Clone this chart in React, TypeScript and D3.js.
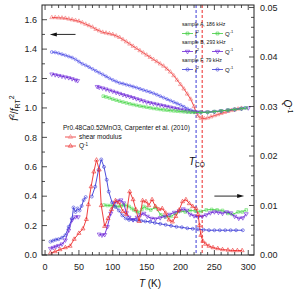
import * as d3 from "d3";

// Carpenter et al. (2010), Pr0.48Ca0.52MnO3
const shearT = [10, 15, 20, 25, 30, 35, 40, 45, 50, 55, 60, 65, 70, 75, 80, 85, 90, 95, 100, 105, 110, 115, 120, 125, 130, 135, 140, 145, 150, 155, 160, 165, 170, 175, 180, 185, 190, 195, 200, 205, 210, 215, 220, 223, 226, 230, 235, 240, 245, 250, 255, 260, 265, 270, 275, 280, 285, 290];
const shearF2 = [1.615, 1.615, 1.613, 1.612, 1.61, 1.605, 1.6, 1.595, 1.59, 1.58, 1.57, 1.56, 1.55, 1.535, 1.525, 1.515, 1.51, 1.505, 1.5, 1.49, 1.48, 1.465, 1.45, 1.435, 1.42, 1.405, 1.39, 1.375, 1.36, 1.345, 1.33, 1.315, 1.3, 1.285, 1.265, 1.245, 1.22, 1.19, 1.16, 1.13, 1.095, 1.06, 1.01, 0.97, 0.945, 0.93, 0.928, 0.932, 0.94, 0.948, 0.955, 0.963, 0.97, 0.977, 0.983, 0.988, 0.993, 0.998];
const carpQT = [8, 15, 22, 30, 37, 43, 50, 56, 61, 64, 68, 72, 76, 80, 83, 88, 93, 98, 104, 109, 115, 120, 125, 130, 134, 139, 144, 149, 153, 158, 163, 168, 173, 178, 183, 188, 193, 198, 203, 208, 213, 218, 223, 226, 228, 230, 233, 237, 242, 248, 255, 262, 270, 277, 284, 291];
const carpQ = [0.0004, 0.0007, 0.0011, 0.0015, 0.0018, 0.0032, 0.0044, 0.0053, 0.0072, 0.0102, 0.0138, 0.0168, 0.0192, 0.0172, 0.01, 0.0058, 0.0074, 0.0092, 0.011, 0.0106, 0.0088, 0.0082, 0.0128, 0.0112, 0.0092, 0.0068, 0.011, 0.0108, 0.01, 0.0112, 0.0098, 0.0092, 0.0094, 0.0085, 0.0071, 0.0067, 0.0078, 0.0091, 0.0108, 0.0112, 0.0104, 0.0098, 0.0094, 0.0082, 0.006, 0.004, 0.0028, 0.0022, 0.0018, 0.0015, 0.0013, 0.0011, 0.001, 0.0009, 0.0009, 0.0009];

// sample A, 186 kHz
const aF2T = [86, 90, 95, 100, 105, 110, 115, 120, 125, 130, 135, 140, 145, 150, 155, 160, 165, 170, 175, 180, 185, 190, 195, 200, 205, 210, 215, 220, 230, 240, 250, 260, 270, 280, 290, 297];
const aF2 = [1.08, 1.075, 1.068, 1.06, 1.053, 1.046, 1.04, 1.034, 1.028, 1.023, 1.018, 1.013, 1.009, 1.005, 1.001, 0.997, 0.994, 0.99, 0.987, 0.985, 0.982, 0.98, 0.978, 0.976, 0.974, 0.972, 0.971, 0.97, 0.97, 0.971, 0.975, 0.98, 0.985, 0.99, 0.995, 1.0];
const aQT = [87, 92, 97, 102, 107, 112, 116, 120, 124, 128, 131, 135, 139, 143, 146, 150, 156, 163, 171, 178, 186, 193, 200, 207, 214, 222, 230, 238, 246, 254, 262, 270, 277, 285, 291, 297];
const aQ = [0.0101, 0.01, 0.01, 0.0099, 0.0098, 0.0099, 0.0101, 0.01, 0.0098, 0.0094, 0.0091, 0.0088, 0.0086, 0.0092, 0.0098, 0.0094, 0.0091, 0.0096, 0.0081, 0.0077, 0.0078, 0.0084, 0.0089, 0.0087, 0.009, 0.0089, 0.0088, 0.0091, 0.0092, 0.0091, 0.009, 0.0084, 0.0082, 0.0087, 0.0087, 0.0091];

// sample B, 293 kHz (null = no data)
const bF2T = [10, 15, 20, 25, 30, 35, 40, 45, 48, 60, 77, 80, 85, 90, 95, 100, 105, 110, 115, 120, 125, 130, 135, 140, 145, 150, 155, 160, 165, 170, 175, 180, 185, 190, 195, 200, 205, 210, 215, 220, 230, 240, 250, 260, 270, 280, 290, 300];
const bF2 = [1.23, 1.225, 1.22, 1.215, 1.21, 1.205, 1.198, 1.19, 1.185, null, 1.145, 1.14, 1.135, 1.128, 1.12, 1.113, 1.105, 1.098, 1.09, 1.083, 1.077, 1.07, 1.062, 1.055, 1.048, 1.04, 1.035, 1.03, 1.025, 1.02, 1.015, 1.01, 1.005, 1.0, 0.995, 0.99, 0.985, 0.98, 0.977, 0.975, 0.972, 0.972, 0.975, 0.98, 0.985, 0.99, 0.995, 1.0];
const bQT = [8, 12, 16, 20, 25, 30, 35, 40, 45, 49, 64, 80, 84, 88, 92, 97, 102, 107, 112, 116, 120, 124, 130, 136, 141, 146, 151, 157, 163, 170, 177, 184, 191, 198, 204, 209, 214, 220, 226, 232, 238, 244, 250, 256, 262, 268, 274, 280, 286, 292, 297];
const bQ = [0.0013, 0.0015, 0.0017, 0.0019, 0.0022, 0.003, 0.005, 0.0071, 0.0077, 0.0077, null, 0.0042, 0.004, 0.0041, 0.0057, 0.0084, 0.0104, 0.0109, 0.0111, 0.0105, 0.0085, 0.0076, 0.0071, 0.0076, 0.0081, 0.0084, 0.0078, 0.0074, 0.0073, 0.0075, 0.0078, 0.0082, 0.0086, 0.0089, 0.0093, 0.009, 0.0082, 0.0079, 0.0077, 0.0078, 0.0081, 0.0085, 0.0087, 0.0086, 0.0084, 0.0087, 0.0085, 0.0078, 0.0074, 0.0075, 0.0083];

// sample F, 79 kHz
const fF2T = [10, 15, 20, 25, 30, 35, 40, 45, 50, 55, 60, 65, 70, 75, 80, 85, 90, 95, 100, 105, 110, 115, 120, 125, 130, 135, 140, 145, 150, 155, 160, 165, 170, 175, 180, 185, 190, 195, 200, 205, 210, 215, 220, 225, 230, 240, 250, 260, 270, 280, 290, 295];
const fF2 = [1.38, 1.378, 1.372, 1.365, 1.358, 1.35, 1.342, 1.33, 1.315, 1.3, 1.29, 1.278, 1.265, 1.252, 1.24, 1.228, 1.215, 1.202, 1.19, 1.18, 1.17, 1.165, 1.158, 1.152, 1.145, 1.138, 1.13, 1.122, 1.115, 1.108, 1.1, 1.09, 1.08, 1.07, 1.06, 1.05, 1.04, 1.03, 1.02, 1.008, 0.995, 0.985, 0.975, 0.972, 0.97, 0.97, 0.974, 0.979, 0.985, 0.99, 0.996, 1.0];
const fQT = [8, 12, 16, 20, 25, 30, 35, 40, 42, 45, 48, 51, 54, 57, 60, 64, 69, 74, 79, 83, 87, 91, 94, 99, 104, 109, 114, 119, 124, 130, 136, 142, 148, 155, 162, 170, 178, 186, 194, 202, 210, 218, 226, 234, 242, 250, 258, 266, 274, 282, 292];
const fQ = [0.0027, 0.0029, 0.0031, 0.0032, 0.0035, 0.004, 0.0057, 0.0074, 0.0096, 0.0087, 0.0094, 0.009, 0.0099, 0.0111, 0.0117, null, 0.0118, 0.0138, 0.0172, 0.0193, 0.0178, 0.0152, 0.0128, 0.0106, 0.0097, 0.009, 0.008, 0.0074, 0.0071, 0.0071, 0.007, 0.0069, 0.0068, 0.0067, 0.0065, 0.0063, 0.0061, 0.0059, 0.0057, 0.0056, 0.0054, 0.0053, 0.0052, 0.0051, 0.005, 0.005, 0.005, 0.005, 0.005, 0.005, 0.005];

const T_CO = [223, 232]; // blue, red dashed lines

const W = 296;
const H = 291;
const M = { left: 42, right: 254, top: 5, bottom: 255 };
const FONT = "'Liberation Sans', Arial, Helvetica, sans-serif";

const RED = "#ec2a2a";
const RED_LIGHT = "#f47272";
const GREEN = "#3ccc3c";
const PURPLE = "#6a22d6";
const BLUE = "#3a3ad6";

const x = d3.scaleLinear().domain([-4.5, 308.5]).range([M.left, M.right]);
const yL = d3.scaleLinear().domain([0, 1.7]).range([M.bottom, M.top]);
const yR = d3.scaleLinear().domain([0, 0.0505]).range([M.bottom, M.top]);

type Shape = "tri" | "down" | "circle" | "square";

function symbolPath(shape: Shape, size: number) {
  const type =
    shape === "circle" ? d3.symbolCircle : shape === "square" ? d3.symbolSquare : d3.symbolTriangle;
  return d3.symbol().type(type).size(size)() as string;
}

function Series({
  t,
  v,
  y,
  color,
  mark,
  fill = "none",
  shape,
  size = 7,
}: {
  t: number[];
  v: (number | null)[];
  y: d3.ScaleLinear<number, number>;
  color: string;
  mark?: string;
  fill?: string;
  shape: Shape;
  size?: number;
}) {
  const pts = t.map((tt, i) => ({ t: tt, v: v[i] }));
  const line = d3
    .line<{ t: number; v: number | null }>()
    .defined((d) => d.v != null)
    .x((d) => x(d.t))
    .y((d) => y(d.v as number));
  const sym = symbolPath(shape, size);
  const rot = shape === "down" ? " rotate(180)" : "";
  return (
    <g>
      <path d={line(pts) ?? ""} fill="none" stroke={color} strokeWidth={0.9} />
      {pts
        .filter((d) => d.v != null)
        .map((d, i) => (
          <path
            key={i}
            d={sym}
            transform={`translate(${x(d.t)},${y(d.v as number)})${rot}`}
            fill={fill}
            stroke={mark ?? color}
            strokeWidth={0.6}
          />
        ))}
    </g>
  );
}

function LegendSwatch({ x0, y0, color, shape, fill = "none", mark }: { x0: number; y0: number; color: string; shape: Shape; fill?: string; mark?: string }) {
  const rot = shape === "down" ? " rotate(180)" : "";
  return (
    <g>
      <line x1={x0} x2={x0 + 11} y1={y0} y2={y0} stroke={color} strokeWidth={0.8} />
      <path
        d={symbolPath(shape, 8)}
        transform={`translate(${x0 + 5.5},${y0})${rot}`}
        fill={fill}
        stroke={mark ?? color}
        strokeWidth={0.6}
      />
    </g>
  );
}

function Arrow({ x1, x2, y }: { x1: number; x2: number; y: number }) {
  const dir = Math.sign(x2 - x1);
  return (
    <g>
      <line x1={x1} x2={x2 - dir * 5} y1={y} y2={y} stroke="#111" strokeWidth={0.9} />
      <path d={`M${x2},${y} L${x2 - dir * 7},${y - 2} L${x2 - dir * 7},${y + 2} Z`} fill="#111" />
    </g>
  );
}

export default function App() {
  const xTicks = d3.range(0, 31).map((i) => i * 10);
  const lTicks = d3.range(0, 17).map((i) => i / 10);
  const rTicks = d3.range(0, 26).map((i) => i * 0.002);

  const sampleLegend = [
    { label: "sample A, 186 kHz", color: GREEN, shape: "square" as Shape, y: 24 },
    { label: "sample B, 293 kHz", color: PURPLE, shape: "down" as Shape, y: 42 },
    { label: "sample F, 79 kHz", color: BLUE, shape: "circle" as Shape, y: 60 },
  ];

  return (
    <svg
      width={W}
      height={H}
      style={{ position: "absolute", left: 0, top: 0, background: "#fff" }}
      fontFamily={FONT}
    >
      {/* T_CO dashed lines */}
      <line x1={x(T_CO[0])} x2={x(T_CO[0])} y1={M.top} y2={M.bottom} stroke={BLUE} strokeWidth={1} strokeDasharray="3,2" />
      <line x1={x(T_CO[1])} x2={x(T_CO[1])} y1={M.top} y2={M.bottom} stroke={RED} strokeWidth={1} strokeDasharray="3,2" />

      {/* f^2 curves (left axis) */}
      <Series t={shearT} v={shearF2} y={yL} color={RED} mark={RED_LIGHT} shape="tri" />
      <Series t={fF2T} v={fF2} y={yL} color={BLUE} mark="#5a5af0" shape="circle" />
      <Series t={bF2T} v={bF2} y={yL} color={PURPLE} shape="down" />
      <Series t={aF2T} v={aF2} y={yL} color={GREEN} mark="#55dd55" shape="square" />

      {/* Q^-1 curves (right axis) */}
      <Series t={aQT} v={aQ} y={yR} color={GREEN} mark="#55dd55" shape="square" />
      <Series t={bQT} v={bQ} y={yR} color={PURPLE} shape="down" />
      <Series t={fQT} v={fQ} y={yR} color={BLUE} shape="circle" />
      <Series t={carpQT} v={carpQ} y={yR} color={RED} shape="tri" />

      {/* frame */}
      <rect x={M.left} y={M.top} width={M.right - M.left} height={M.bottom - M.top} fill="none" stroke="#222" strokeWidth={1} />

      {/* bottom / top ticks */}
      {xTicks.map((t) => {
        const len = t % 50 === 0 ? 5 : 3;
        return (
          <g key={t} stroke="#222" strokeWidth={0.8}>
            <line x1={x(t)} x2={x(t)} y1={M.bottom} y2={M.bottom - len} />
            <line x1={x(t)} x2={x(t)} y1={M.top} y2={M.top + len} />
          </g>
        );
      })}
      {xTicks
        .filter((t) => t % 50 === 0)
        .map((t) => (
          <text key={t} x={x(t)} y={270} fontSize={9} textAnchor="middle" fill="#222">
            {t}
          </text>
        ))}

      {/* left ticks */}
      {lTicks.map((v, i) => (
        <line key={i} x1={M.left} x2={M.left + (i % 2 === 0 ? 5 : 3)} y1={yL(v)} y2={yL(v)} stroke="#222" strokeWidth={0.8} />
      ))}
      {lTicks
        .filter((_, i) => i % 2 === 0)
        .map((v) => (
          <text key={v} x={37} y={yL(v) + 3.2} fontSize={9} textAnchor="end" fill="#222">
            {v.toFixed(1)}
          </text>
        ))}

      {/* right ticks */}
      {rTicks.map((v, i) => (
        <line key={i} x1={M.right} x2={M.right - (i % 5 === 0 ? 5 : 3)} y1={yR(v)} y2={yR(v)} stroke="#222" strokeWidth={0.8} />
      ))}
      {rTicks
        .filter((_, i) => i % 5 === 0)
        .map((v) => (
          <text key={v} x={260} y={yR(v) + 3.2} fontSize={9} fill="#222">
            {v.toFixed(2)}
          </text>
        ))}

      {/* axis titles */}
      <text x={150} y={287} fontSize={10} textAnchor="middle" fill="#111">
        <tspan fontStyle="italic">T</tspan> (K)
      </text>
      <text transform={`translate(18,${yL(1.0)}) rotate(-90)`} fontSize={10} textAnchor="middle" fill="#111">
        <tspan fontStyle="italic">f</tspan>
        <tspan fontSize={7} dy={-4}>2</tspan>
        <tspan dy={4}>/</tspan>
        <tspan fontStyle="italic">f</tspan>
        <tspan fontSize={7} dy={2}>RT</tspan>
        <tspan fontSize={7} dy={-6}>2</tspan>
      </text>
      <text transform={`translate(284,${yR(0.03)}) rotate(90)`} fontSize={10} textAnchor="middle" fill="#111">
        <tspan fontStyle="italic">Q</tspan>
        <tspan fontSize={7} dy={-4}>-1</tspan>
      </text>

      {/* arrows */}
      <Arrow x1={x(45)} x2={x(7)} y={yL(1.5)} />
      <Arrow x1={x(250)} x2={x(294)} y={yR(0.0119)} />

      {/* T_CO label */}
      <text x={x(212)} y={yR(0.0182)} fontSize={10.5} fill="#111">
        <tspan fontStyle="italic">T</tspan>
        <tspan fontSize={6.5} dy={2}>CO</tspan>
      </text>

      {/* Carpenter legend */}
      <text x={63} y={129.5} fontSize={6.5} fill="#111">
        Pr0.48Ca0.52MnO3, Carpenter et al. (2010)
      </text>
      <LegendSwatch x0={65} y0={137} color={RED} mark={RED_LIGHT} shape="tri" />
      <text x={79} y={139.3} fontSize={6.5} fill="#111">shear modulus</text>
      <LegendSwatch x0={65} y0={146} color={RED} shape="tri" />
      <text x={79} y={148.3} fontSize={6.5} fill="#111">
        Q<tspan fontSize={4.5} dy={-2.5}>-1</tspan>
      </text>

      {/* sample legend */}
      {sampleLegend.map((s) => (
        <g key={s.label}>
          <text x={182} y={s.y + 1.8} fontSize={5.2} fill="#111">
            {s.label}
          </text>
          <LegendSwatch x0={182} y0={s.y + 9.5} color={s.color} shape={s.shape} />
          <text x={195} y={s.y + 11.5} fontSize={6} fill="#111">
            <tspan fontStyle="italic">f</tspan>
            <tspan fontSize={4} dy={-2.5}>2</tspan>
          </text>
          <LegendSwatch x0={212} y0={s.y + 9.5} color={s.color} shape={s.shape} />
          <text x={225} y={s.y + 11.5} fontSize={6} fill="#111">
            Q<tspan fontSize={4} dy={-2.5}>-1</tspan>
          </text>
        </g>
      ))}
    </svg>
  );
}
